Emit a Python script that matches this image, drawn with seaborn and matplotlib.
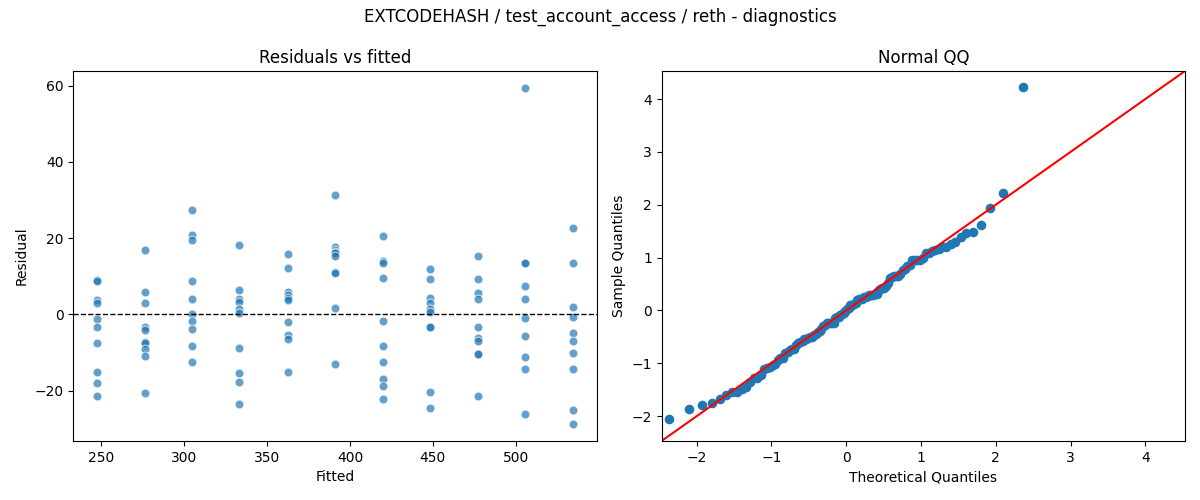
import numpy as np
import pandas as pd
import matplotlib
matplotlib.use("Agg")
import matplotlib.pyplot as plt
import seaborn as sns
from statistics import NormalDist

# fitted value of each group
fitted_levels = [247.3, 276.0, 304.5, 333.3, 362.3, 390.8, 419.7, 448.0, 477.0, 505.7, 534.5]

# residuals read per fitted group
resid_g1 = [9.1, 8.7, 3.7, 2.9, -1.1, -3.2, -7.6, -15.2, -18.0, -21.5]
resid_g2 = [16.9, 5.9, 3.0, -3.3, -4.1, -7.2, -7.6, -9.1, -11.0, -20.7]
resid_g3 = [27.3, 20.9, 19.4, 8.8, 4.1, 0.0, -1.7, -3.9, -8.4, -12.6]
resid_g4 = [18.2, 6.4, 4.1, 3.2, 1.5, 0.4, -8.7, -15.5, -17.8, -23.6]
resid_g5 = [15.8, 12.2, 5.9, 5.2, 4.4, 3.7, -1.9, -5.3, -6.4, -15.0]
resid_g6 = [31.2, 17.6, 16.8, 16.4, 16.1, 15.2, 11.1, 10.8, 1.7, -13.1]
resid_g7 = [20.6, 14.0, 13.5, 9.6, -1.7, -8.2, -12.6, -17.0, -18.9, -22.3]
resid_g8 = [11.9, 9.3, 4.4, 3.0, 1.5, 0.7, -3.2, -3.4, -20.4, -24.6]
resid_g9 = [15.3, 9.3, 5.7, 4.0, -3.2, -6.1, -7.1, -10.3, -10.5, -21.5]
resid_g10 = [59.4, 13.5, 13.4, 7.4, 3.9, -0.9, -5.8, -11.2, -14.4, -26.2]
resid_g11 = [22.6, 13.5, 2.0, -0.6, -4.8, -7.1, -10.2, -14.2, -25.1, -28.8]

resid_groups = [resid_g1, resid_g2, resid_g3, resid_g4, resid_g5, resid_g6,
                resid_g7, resid_g8, resid_g9, resid_g10, resid_g11]

title_main = "EXTCODEHASH / test_account_access / reth - diagnostics"

# build table
rows = []
for f, rs in zip(fitted_levels, resid_groups):
    for r in rs:
        rows.append({"Fitted": f, "Residual": r})
df = pd.DataFrame(rows)

# normal QQ (statsmodels-style plotting positions i/(n+1))
res = np.sort(df["Residual"].to_numpy())
n = len(res)
sample_q = (res - res.mean()) / res.std(ddof=0)
nd = NormalDist()
theo_q = np.array([nd.inv_cdf(i / (n + 1)) for i in range(1, n + 1)])
qq = pd.DataFrame({"Theoretical Quantiles": theo_q, "Sample Quantiles": sample_q})

fig, (ax1, ax2) = plt.subplots(1, 2, figsize=(12, 5), dpi=100)
fig.subplots_adjust(left=0.061, right=0.9875, top=0.858, bottom=0.118, wspace=0.124)

sns.scatterplot(data=df, x="Fitted", y="Residual", ax=ax1, alpha=0.7, s=40,
                color="#1f77b4", edgecolor="white", linewidth=0.75)
ax1.axhline(0, color="black", linestyle="--", linewidth=1)
ax1.set_title("Residuals vs fitted")

sns.scatterplot(data=qq, x="Theoretical Quantiles", y="Sample Quantiles", ax=ax2,
                s=48, color="#1f77b4", linewidth=0)
lims = (-2.47, 4.53)
ax2.plot(lims, lims, color="red", linewidth=1.5)
ax2.set_xlim(lims)
ax2.set_ylim(lims)
ax2.set_title("Normal QQ")

fig.suptitle(title_main, fontsize=12, y=0.985)
fig.savefig("out.png", dpi=100)
